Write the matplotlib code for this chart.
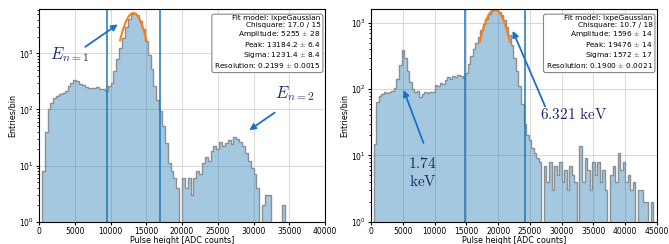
import numpy as np
import matplotlib
matplotlib.use("Agg")
import matplotlib.pyplot as plt

plt.rcParams['mathtext.fontset'] = 'cm'

# bin width 400 ADC counts, starting at 0
bin_width = 400

counts_n1 = [0, 8, 40, 100, 130, 160, 175, 190, 200, 210,
             260, 300, 330, 320, 290, 270, 250, 240, 245, 240,
             250, 235, 230, 215, 260, 300, 480, 800, 1250, 1900,
             3000, 4100, 5000, 5250, 4800, 3800, 2700, 1700, 950, 520,
             260, 150, 95, 50, 25, 11, 8, 6, 4, 0,
             6, 4, 6, 3, 6, 8, 7, 11, 14, 12,
             18, 22, 20, 26, 22, 25, 28, 24, 32, 30,
             26, 22, 17, 12, 9, 7, 4, 0, 2, 3,
             3, 0, 0, 0, 0, 2]

counts_fe = [0, 15, 65, 80, 85, 90, 88, 92, 95, 105,
             140, 230, 390, 300, 190, 130, 100, 92, 95, 75,
             85, 90, 88, 92, 90, 115, 110, 125, 120, 135,
             150, 140, 160, 155, 165, 160, 145, 175, 240, 320,
             400, 500, 620, 780, 960, 1150, 1350, 1500, 1590, 1580,
             1480, 1300, 1100, 870, 650, 460, 300, 190, 110, 60,
             30, 20, 17, 13, 11, 9, 8, 0, 7, 4,
             8, 3, 7, 5, 8, 4, 6, 3, 7, 5,
             4, 0, 14, 4, 9, 6, 3, 8, 5, 8,
             4, 6, 3, 0, 5, 7, 4, 11, 6, 8,
             4, 5, 3, 4, 0, 3, 3, 2, 2, 0,
             2, 0]

# fit results (amplitude, peak, sigma) and box texts
fit_n1 = (5255, 13184.2, 1231.4)
fit_fe = (1596, 19476, 1572)
box_n1 = ["Fit model: ixpeGaussian", "Chisquare: 17.0 / 15", "Amplitude: 5255 $\\pm$ 28",
          "Peak: 13184.2 $\\pm$ 6.4", "Sigma: 1231.4 $\\pm$ 8.4",
          "Resolution: 0.2199 $\\pm$ 0.0015"]
box_fe = ["Fit model: ixpeGaussian", "Chisquare: 10.7 / 18", "Amplitude: 1596 $\\pm$ 14",
          "Peak: 19476 $\\pm$ 14", "Sigma: 1572 $\\pm$ 17",
          "Resolution: 0.1900 $\\pm$ 0.0021"]

arrow_col = '#1f6fc8'
text_col = '#1c2a6b'

fig = plt.figure(figsize=(6.69, 2.44), dpi=100)
ax1 = fig.add_axes([0.0583, 0.092, 0.4275, 0.871])
ax2 = fig.add_axes([0.5546, 0.092, 0.4275, 0.871])


def draw_panel(ax, counts, fit, box, xmax, ytop, xticks):
    edges = np.arange(len(counts) + 1) * bin_width
    ax.hist(edges[:-1], bins=edges, weights=counts, histtype='stepfilled',
            color='C0', alpha=0.4, log=True)
    ax.hist(edges[:-1], bins=edges, weights=counts, histtype='step',
            color='#8a8f94', lw=1.0, log=True)
    amp, mu, sig = fit
    x = np.linspace(mu - 1.5 * sig, mu + 1.5 * sig, 200)
    ax.plot(x, amp * np.exp(-0.5 * ((x - mu) / sig) ** 2), color='C1', lw=1.5)
    ax.axvline(mu - 3 * sig, color='C0', lw=1.1)
    ax.axvline(mu + 3 * sig, color='C0', lw=1.1)
    ax.set_xlim(0, xmax)
    ax.set_ylim(1, ytop)
    ax.set_xticks(xticks)
    ax.grid(True, which='major', color='#d8d8d8', lw=0.7)
    ax.set_axisbelow(True)
    ax.tick_params(labelsize=5.5, length=2.5, pad=1.5)
    ax.tick_params(which='minor', length=1.5)
    ax.set_xlabel('Pulse height [ADC counts]', fontsize=5.8, labelpad=0)
    ax.set_ylabel('Entries/bin', fontsize=5.8, labelpad=1)
    ax.text(0.985, 0.97, "\n".join(box), transform=ax.transAxes, ha='right', va='top',
            fontsize=5.3, linespacing=1.15,
            bbox=dict(boxstyle='round,pad=0.3', fc='white', ec='#888888', lw=0.8))


draw_panel(ax1, counts_n1, fit_n1, box_n1, 40000, 6200, np.arange(0, 40001, 5000))
draw_panel(ax2, counts_fe, fit_fe, box_fe, 45000, 1620, np.arange(0, 45001, 5000))

arrow = dict(arrowstyle='-|>', color=arrow_col, lw=1.3, mutation_scale=9)
ax1.annotate('', xy=(11330, 3520), xytext=(6150, 1230), arrowprops=arrow)
ax1.text(4300, 950, r'$E_{n=1}$', fontsize=12, color=text_col, ha='center', va='center')
ax1.annotate('', xy=(29090, 40), xytext=(33290, 94), arrowprops=arrow)
ax1.text(35800, 190, r'$E_{n=2}$', fontsize=12, color=text_col, ha='center', va='center')

ax2.annotate('', xy=(4980, 106), xytext=(8410, 14), arrowprops=arrow)
ax2.text(8100, 5.5, '$1.74$\n$\\mathrm{keV}$', fontsize=11, color=text_col,
         ha='center', va='center', linespacing=1.3)
ax2.annotate('', xy=(22120, 830), xytext=(27570, 50), arrowprops=arrow)
ax2.text(31900, 42, r'$6.321\ \mathrm{keV}$', fontsize=11, color=text_col,
         ha='center', va='center')

fig.savefig('out.png', dpi=100)
